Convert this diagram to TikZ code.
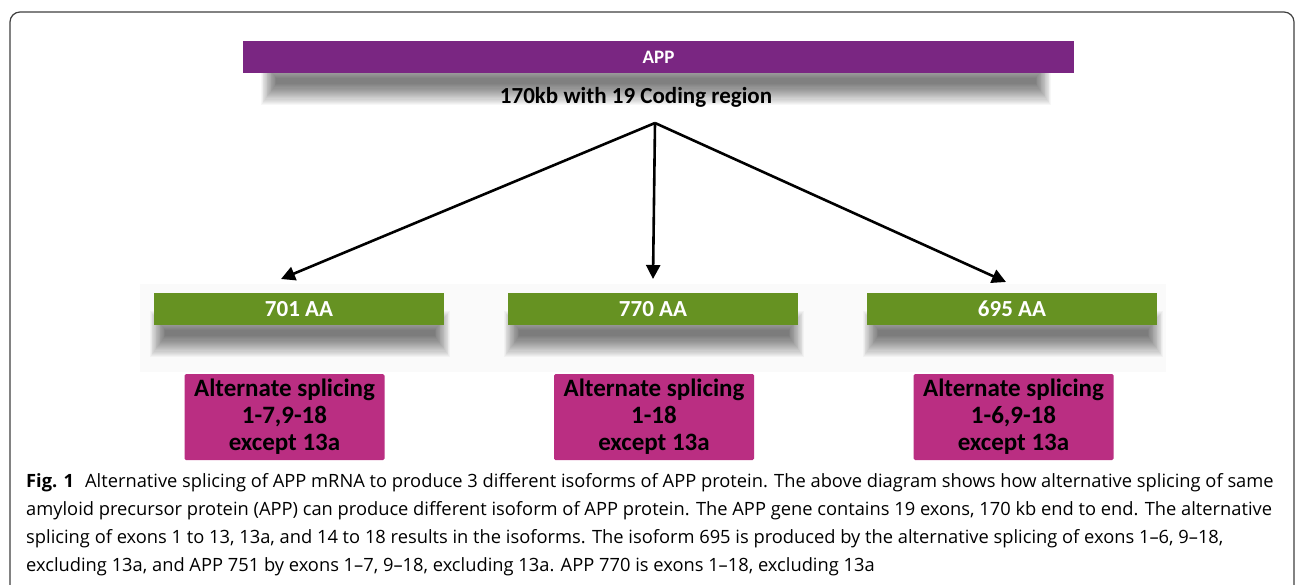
\documentclass[tikz,border=0pt]{standalone}
\usepackage{fontspec}
\setmainfont{Carlito}
\newfontfamily\capfont{Open Sans}
\usetikzlibrary{arrows.meta}
\definecolor{appviolet}{RGB}{122,38,130}
\definecolor{isogreen}{RGB}{102,146,34}
\definecolor{splmagenta}{RGB}{186,46,130}
% soft shadow under a bar: centre x, centre y, width
\newcommand{\shd}[3]{
 \foreach \k in {0,...,19}
  \fill[black, opacity=0.03] ({#1-#3/2-4+0.8*\k}, {#2+2+1*\k}) rectangle ({#1+#3/2+6-0.8*\k}, {#2+48-1.1*\k});
}
\tikzset{
 bar/.style={minimum height=32pt, inner sep=0pt, text=white, font=\fontsize{19}{22}\selectfont\bfseries},
 splbox/.style={fill=splmagenta, rounded corners=1.5pt, minimum width=200pt, minimum height=86pt,
  inner sep=0pt, align=center, font=\fontsize{25}{27}\selectfont\bfseries},
 branch/.style={line width=2.6pt, -{Triangle[length=14pt,width=14pt]}}
}

\begin{document}
\begin{tikzpicture}[x=1pt,y=-1pt]
\useasboundingbox (0,0) rectangle (1296,584);
\fill[white] (0,0) rectangle (1296,584);
\draw[black!75, line width=1.2pt, rounded corners=10pt] (10,12) rectangle (1294,620);

% gene
\shd{655}{57}{780}
\node[bar, fill=appviolet, minimum width=831pt] (app) at (658.5,57) {APP};
\node[font=\fontsize{23}{26}\selectfont\bfseries] (len) at (636,97) {170kb with 19 Coding region};
\coordinate (split) at (655,123);

% isoforms
\fill[black!2] (140,284) rectangle (1166,372);
\foreach \i/\gx/\mx/\tx/\ty/\aa/\rng in {1/299/284.5/281/279/701/{1-7,9-18},2/653/654/653/279/770/{1-18},3/1012/1013.5/1006/282/695/{1-6,9-18}} {
 \shd{\gx}{309}{290}
 \node[bar, fill=isogreen, minimum width=290pt, font=\fontsize{23}{26}\selectfont\bfseries] (iso\i) at (\gx,309) {\aa\ AA};
 \node[splbox] (spl\i) at (\mx,417) {Alternate splicing\\\rng\\except 13a};
 \coordinate (tip\i) at (\tx,\ty);
 \draw[branch] (split) -- (tip\i);
 }

% caption
\node[anchor=north west, inner sep=0pt, align=left, font=\capfont\fontsize{18.3}{28.2}\selectfont] (cap) at (26,473)
 {\textbf{Fig. 1}\hspace{0.6em}Alternative splicing of APP mRNA to produce 3 different isoforms of APP protein. The above diagram shows how alternative splicing of same\\
 amyloid precursor protein (APP) can produce different isoform of APP protein. The APP gene contains 19 exons, 170 kb end to end. The alternative\\
 splicing of exons 1 to 13, 13a, and 14 to 18 results in the isoforms. The isoform 695 is produced by the alternative splicing of exons 1–6, 9–18,\\
 excluding 13a, and APP 751 by exons 1–7, 9–18, excluding 13a. APP 770 is exons 1–18, excluding 13a};
\end{tikzpicture}
\end{document}
